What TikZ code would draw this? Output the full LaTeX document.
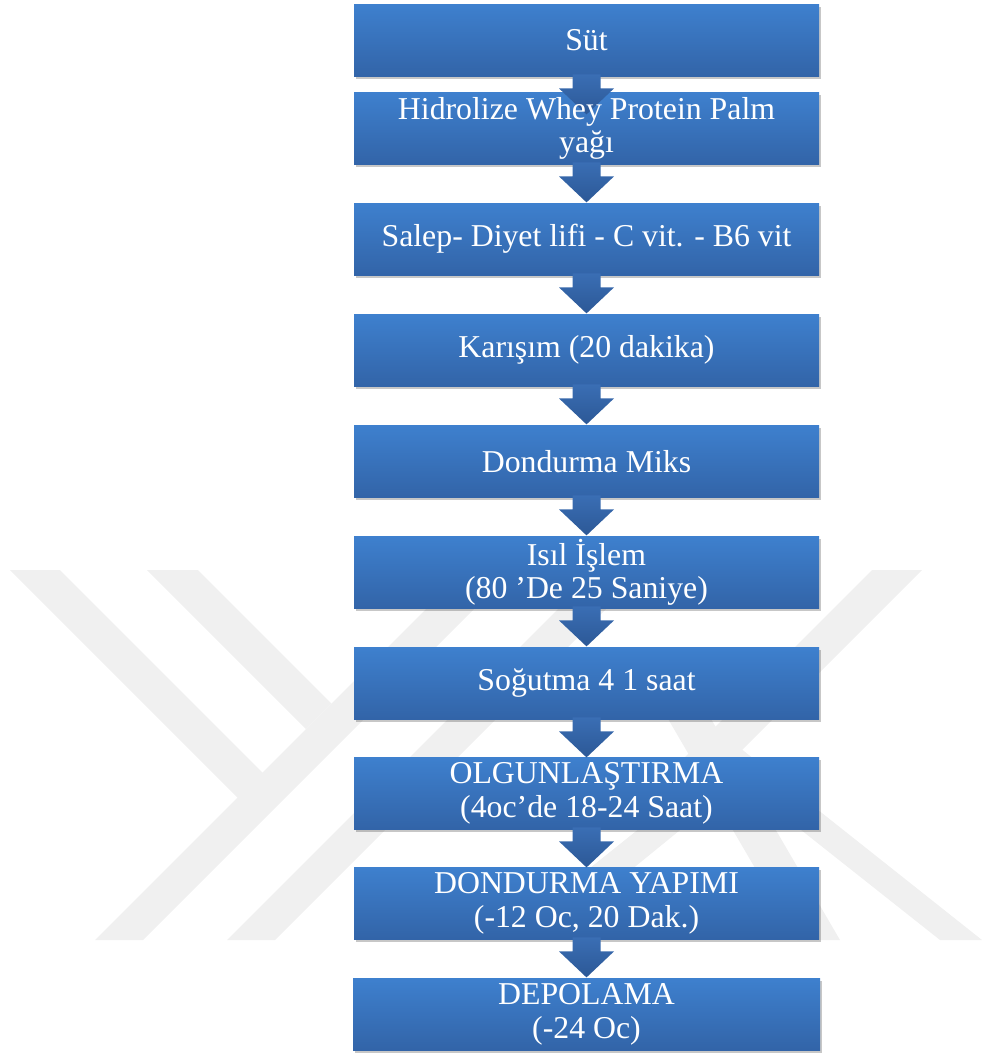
\documentclass[tikz,border=0pt]{standalone}
\usepackage{fontspec}
\setmainfont{Liberation Serif}
\usetikzlibrary{calc,shadows}
\definecolor{boxtop}{RGB}{62,128,206}
\definecolor{boxmid}{RGB}{58,118,194}
\definecolor{boxbot}{RGB}{50,100,168}
\definecolor{arrtop}{RGB}{58,110,180}
\definecolor{arrbot}{RGB}{44,88,150}
\definecolor{wm}{RGB}{240,240,240}
\tikzset{
  stepbox/.style={rectangle, minimum width=465pt, minimum height=72pt, inner sep=0pt, anchor=north,
    top color=boxtop, middle color=boxmid, bottom color=boxbot,
    drop shadow={shadow xshift=1.5pt, shadow yshift=-3pt, opacity=0.22, fill=black}},
  steplabel/.style={text=white, align=center, font=\fontsize{31.8}{33.5}\selectfont},
  arrowshade/.style={top color=arrtop, bottom color=arrbot},
  wmfill/.style={fill=wm}
}
\newcommand\flowarrow[2]{%
  \path[arrowshade] ($(#1.south)+(-14,2)$) -- ($(#1.south)+(-14,-12)$) -- ($(#1.south)+(-27.5,-12)$)
    -- ($(#1.south)+(0,-38)$) -- ($(#1.south)+(27.5,-12)$) -- ($(#1.south)+(14,-12)$)
    -- ($(#1.south)+(14,2)$) -- cycle;}
\begin{document}
\begin{tikzpicture}[x=1pt,y=1pt]
\useasboundingbox (0,0) rectangle (982,-1057);
% watermark
\begin{scope}[yscale=-1]
  \fill[wmfill] (10,570) -- (60,570) -- (263,773) -- (238,798) -- cycle;
  \fill[wmfill] (147,570) -- (198,570) -- (331.5,703.5) -- (306,729) -- cycle;
  \fill[wmfill] (95,940) -- (143,940) -- (523,560) -- (475,560) -- cycle;
  \fill[wmfill] (227,940) -- (275,940) -- (615,600) -- (567,600) -- cycle;
  \fill[wmfill] (872,570) -- (922,570) -- (692,800) -- (642,800) -- cycle;
  \fill[wmfill] (740,748) -- (982,940) -- (940,940) -- (719,765) -- cycle;
  \fill[wmfill] (740,748) -- (760,765) -- (545,940) -- (500,940) -- cycle;
  \fill[wmfill] (657,700) -- (700,700) -- (840,940) -- (797,940) -- cycle;
\end{scope}
% boxes
\node[stepbox] (b1) at (586.5,-4) {};
\node[stepbox] (b2) at (586.5,-92) {};
\node[stepbox] (b3) at (586.5,-203) {};
\node[stepbox] (b4) at (586.5,-314) {};
\node[stepbox] (b5) at (586.5,-425) {};
\node[stepbox] (b6) at (586.5,-536) {};
\node[stepbox] (b7) at (586.5,-647) {};
\node[stepbox] (b8) at (586.5,-757) {};
\node[stepbox] (b9) at (586.5,-867) {};
\node[stepbox, minimum width=467pt] (b10) at (586.5,-978) {};
% arrows
\flowarrow{b1}{b2}
\flowarrow{b2}{b3}
\flowarrow{b3}{b4}
\flowarrow{b4}{b5}
\flowarrow{b5}{b6}
\flowarrow{b6}{b7}
\flowarrow{b7}{b8}
\flowarrow{b8}{b9}
\flowarrow{b9}{b10}
% labels
\node[steplabel] (t1) at (b1) {Süt};
\node[steplabel] (t2) at (b2) {Hidrolize Whey Protein Palm\\yağı};
\node[steplabel] (t3) at (b3) {Salep- Diyet lifi - C vit. - B6 vit};
\node[steplabel] (t4) at (b4) {Karışım (20 dakika)};
\node[steplabel] (t5) at (b5) {Dondurma Miks};
\node[steplabel] (t6) at (b6) {Isıl İşlem\\(80 ’De 25 Saniye)};
\node[steplabel] (t7) at (b7) {Soğutma 4 1 saat};
\node[steplabel] (t8) at (b8) {OLGUNLAŞTIRMA\\(4oc’de 18-24 Saat)};
\node[steplabel] (t9) at (b9) {DONDURMA YAPIMI\\(-12 Oc, 20 Dak.)};
\node[steplabel] (t10) at (b10) {DEPOLAMA\\(-24 Oc)};
\end{tikzpicture}
\end{document}
